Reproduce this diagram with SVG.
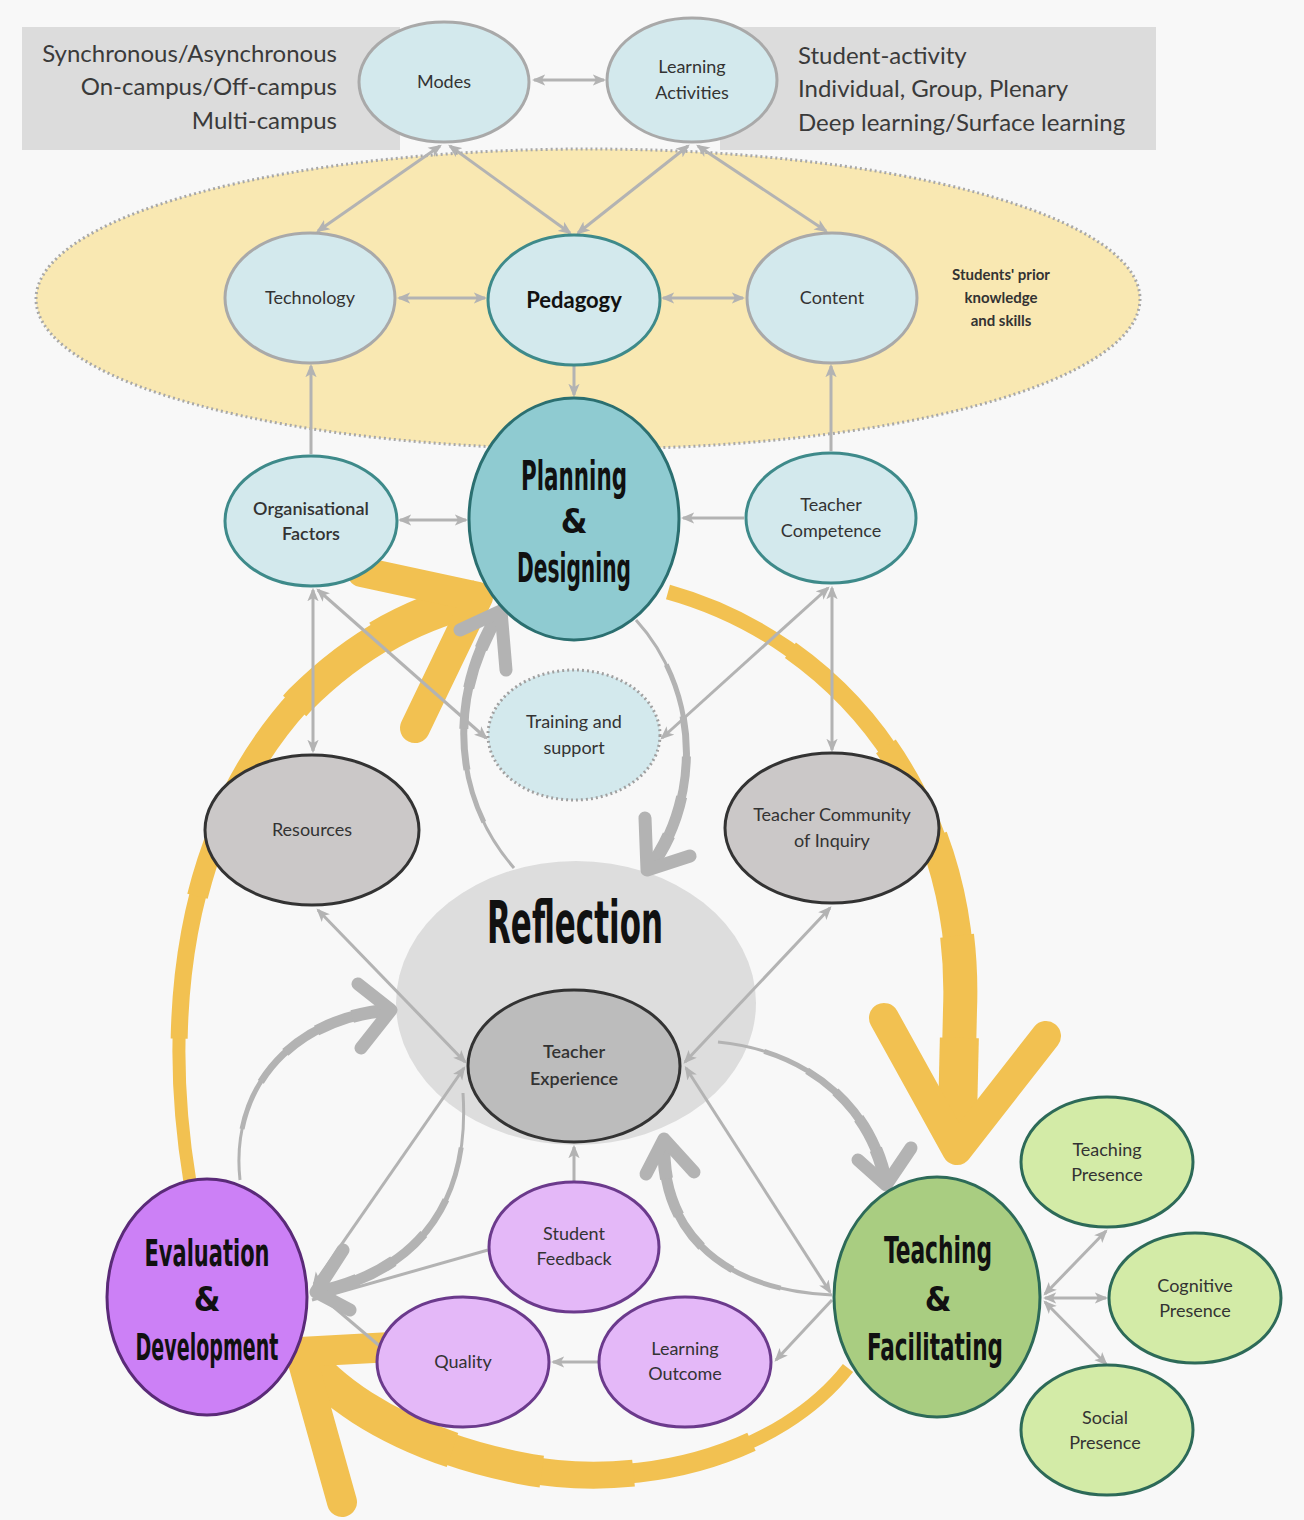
<svg xmlns="http://www.w3.org/2000/svg" width="1304" height="1520" viewBox="0 0 1304 1520">
<defs>
<style>
.lbl{font-family:Lato,"Liberation Sans",sans-serif;font-size:18px;fill:#333;text-anchor:middle}
.semi{font-weight:600}
.box{font-family:Lato,"Liberation Sans",sans-serif;font-size:24px;fill:#3a3a3a}
.hand{font-family:"Liberation Sans Narrow","DejaVu Sans Condensed",sans-serif;font-weight:bold;fill:#111;text-anchor:middle}
.lg{fill:#d3e9ed;stroke:#a9a9a9;stroke-width:3}
.lt{fill:#d3e9ed;stroke:#3e8a8a;stroke-width:3}
.gr{fill:#cbc8c8;stroke:#333;stroke-width:3}
.pu{fill:#e4b8f8;stroke:#6b3a8c;stroke-width:3}
.gn{fill:#d3eba7;stroke:#2d6a58;stroke-width:3}
.con{fill:none;stroke:#b3b3b3;stroke-width:3}
.bi{marker-start:url(#ah);marker-end:url(#ah)}
.en{marker-end:url(#ah)}
.ya{fill:none;stroke:#f2c151;stroke-linecap:butt}
.yc{fill:none;stroke:#f2c151;stroke-width:30;stroke-linecap:round;stroke-linejoin:round}
.ga{fill:none;stroke:#b3b3b3;stroke-linecap:butt}
.gc{fill:none;stroke:#b3b3b3;stroke-width:13;stroke-linecap:round;stroke-linejoin:round}
.t1{stroke-dasharray:0 20 80}
.t2{stroke-dasharray:0 40 60}
.t3{stroke-dasharray:0 55 45}
.t4{stroke-dasharray:0 70 30}
.t5{stroke-dasharray:0 85 15}
</style>
<marker id="ah" viewBox="0 0 12 10" refX="10" refY="5" markerWidth="4.5" markerHeight="4" orient="auto-start-reverse" markerUnits="strokeWidth">
<path d="M0,0 L12,5 L0,10 L3,5 Z" fill="#b3b3b3"/>
</marker>
<path id="yA" d="M 668 592 C 840 640 968 800 960 1010 L 957 1140"/>
<path id="yB" d="M 848 1368 C 780 1455 640 1492 520 1468 C 420 1448 340 1405 300 1352"/>
<path id="yC" d="M 190 1182 C 160 1000 190 820 300 700 C 360 640 420 612 478 598"/>
</defs>
<rect x="0" y="0" width="1304" height="1520" fill="#f8f8f8"/>
<g id="backgrounds">
<rect x="22" y="27" width="378" height="123" fill="#dcdcdc"/>
<rect x="720" y="27" width="436" height="123" fill="#dcdcdc"/>
<ellipse cx="588" cy="299" rx="552" ry="150" fill="#f9e8b2" stroke="#a8a8a8" stroke-width="3" stroke-dasharray="2 3"/>
<ellipse cx="576" cy="1003" rx="180" ry="142" fill="#dddddd"/>
</g>
<g id="box-texts">
<text class="box" x="337" y="62" text-anchor="end">Synchronous/Asynchronous</text>
<text class="box" x="337" y="95" text-anchor="end">On-campus/Off-campus</text>
<text class="box" x="337" y="129" text-anchor="end">Multi-campus</text>
<text class="box" x="798" y="64">Student-activity</text>
<text class="box" x="798" y="97">Individual, Group, Plenary</text>
<text class="box" x="798" y="131">Deep learning/Surface learning</text>
<text class="lbl" x="1001" y="280" style="font-size:15px;font-weight:bold">Students' prior</text>
<text class="lbl" x="1001" y="303" style="font-size:15px;font-weight:bold">knowledge</text>
<text class="lbl" x="1001" y="326" style="font-size:15px;font-weight:bold">and skills</text>
</g>
<g id="cycle-arrows">
<path class="ya" d="M 668 592 C 840 640 968 800 960 1010 L 957 1140" stroke-width="15"/>
<path class="ya t1" pathLength="100" d="M 668 592 C 840 640 968 800 960 1010 L 957 1140" stroke-width="19"/>
<path class="ya t2" pathLength="100" d="M 668 592 C 840 640 968 800 960 1010 L 957 1140" stroke-width="24"/>
<path class="ya t3" pathLength="100" d="M 668 592 C 840 640 968 800 960 1010 L 957 1140" stroke-width="29"/>
<path class="ya t4" pathLength="100" d="M 668 592 C 840 640 968 800 960 1010 L 957 1140" stroke-width="34"/>
<path class="ya t5" pathLength="100" d="M 668 592 C 840 640 968 800 960 1010 L 957 1140" stroke-width="39"/>
<polyline class="yc" points="884,1018 957,1150 1046,1036"/>
<path class="ya" d="M 848 1368 C 780 1455 640 1492 520 1468 C 420 1448 340 1405 300 1352" stroke-width="13"/>
<path class="ya t1" pathLength="100" d="M 848 1368 C 780 1455 640 1492 520 1468 C 420 1448 340 1405 300 1352" stroke-width="20"/>
<path class="ya t2" pathLength="100" d="M 848 1368 C 780 1455 640 1492 520 1468 C 420 1448 340 1405 300 1352" stroke-width="27"/>
<path class="ya t3" pathLength="100" d="M 848 1368 C 780 1455 640 1492 520 1468 C 420 1448 340 1405 300 1352" stroke-width="32"/>
<path class="ya t4" pathLength="100" d="M 848 1368 C 780 1455 640 1492 520 1468 C 420 1448 340 1405 300 1352" stroke-width="36"/>
<polyline class="yc" points="410,1346 300,1352 342,1502"/>
<path class="ya" d="M 190 1182 C 160 1000 190 820 300 700 C 360 640 420 612 478 598" stroke-width="13"/>
<path class="ya t1" pathLength="100" d="M 190 1182 C 160 1000 190 820 300 700 C 360 640 420 612 478 598" stroke-width="17"/>
<path class="ya t2" pathLength="100" d="M 190 1182 C 160 1000 190 820 300 700 C 360 640 420 612 478 598" stroke-width="21"/>
<path class="ya t3" pathLength="100" d="M 190 1182 C 160 1000 190 820 300 700 C 360 640 420 612 478 598" stroke-width="26"/>
<path class="ya t4" pathLength="100" d="M 190 1182 C 160 1000 190 820 300 700 C 360 640 420 612 478 598" stroke-width="31"/>
<path class="ya t5" pathLength="100" d="M 190 1182 C 160 1000 190 820 300 700 C 360 640 420 612 478 598" stroke-width="36"/>
<polyline class="yc" points="362,572 478,597 415,728"/>
</g>
<g id="connectors">
<line class="con bi" x1="534" y1="80" x2="604" y2="80"/>
<line class="con bi" x1="440" y1="146" x2="318" y2="231"/>
<line class="con bi" x1="450" y1="146" x2="570" y2="233"/>
<line class="con bi" x1="688" y1="146" x2="578" y2="233"/>
<line class="con bi" x1="698" y1="146" x2="826" y2="231"/>
<line class="con bi" x1="399" y1="298" x2="485" y2="298"/>
<line class="con bi" x1="663" y1="298" x2="743" y2="298"/>
<line class="con en" x1="574" y1="366" x2="574" y2="395"/>
<line class="con en" x1="311" y1="454" x2="311" y2="366"/>
<line class="con en" x1="831" y1="451" x2="831" y2="366"/>
<line class="con bi" x1="400" y1="520" x2="466" y2="520"/>
<line class="con en" x1="744" y1="518" x2="683" y2="518"/>
<line class="con bi" x1="313" y1="590" x2="313" y2="751"/>
<line class="con bi" x1="318" y1="590" x2="486" y2="738"/>
<line class="con bi" x1="832" y1="588" x2="832" y2="750"/>
<line class="con bi" x1="828" y1="588" x2="662" y2="738"/>
<line class="con bi" x1="318" y1="910" x2="465" y2="1062"/>
<line class="con bi" x1="830" y1="908" x2="685" y2="1062"/>
<line class="con bi" x1="314" y1="1284" x2="464" y2="1068"/>
<line class="con" x1="488" y1="1250" x2="312" y2="1300"/>
<line class="con" x1="382" y1="1348" x2="316" y2="1292"/>
<line class="con en" x1="574" y1="1182" x2="574" y2="1147"/>
<line class="con en" x1="598" y1="1362" x2="553" y2="1362"/>
<line class="con bi" x1="830" y1="1292" x2="686" y2="1068"/>
<line class="con en" x1="832" y1="1300" x2="776" y2="1360"/>
<line class="con bi" x1="1045" y1="1294" x2="1106" y2="1231"/>
<line class="con bi" x1="1045" y1="1298" x2="1106" y2="1298"/>
<line class="con bi" x1="1045" y1="1302" x2="1106" y2="1364"/>
<path class="ga" d="M 514 868 C 455 800 445 700 500 612" stroke-width="3"/>
<path class="ga t1" pathLength="100" d="M 514 868 C 455 800 445 700 500 612" stroke-width="5"/>
<path class="ga t2" pathLength="100" d="M 514 868 C 455 800 445 700 500 612" stroke-width="7"/>
<path class="ga t3" pathLength="100" d="M 514 868 C 455 800 445 700 500 612" stroke-width="9"/>
<path class="ga t4" pathLength="100" d="M 514 868 C 455 800 445 700 500 612" stroke-width="11"/>
<path class="ga t5" pathLength="100" d="M 514 868 C 455 800 445 700 500 612" stroke-width="13"/>
<polyline class="gc" points="460,630 501,611 506,670"/>
<path class="ga" d="M 636 620 C 700 690 702 800 648 870" stroke-width="3"/>
<path class="ga t1" pathLength="100" d="M 636 620 C 700 690 702 800 648 870" stroke-width="5"/>
<path class="ga t2" pathLength="100" d="M 636 620 C 700 690 702 800 648 870" stroke-width="7"/>
<path class="ga t3" pathLength="100" d="M 636 620 C 700 690 702 800 648 870" stroke-width="9"/>
<path class="ga t4" pathLength="100" d="M 636 620 C 700 690 702 800 648 870" stroke-width="11"/>
<path class="ga t5" pathLength="100" d="M 636 620 C 700 690 702 800 648 870" stroke-width="13"/>
<polyline class="gc" points="645,818 647,870 690,856"/>
<path class="ga" d="M 240 1180 C 230 1090 290 1018 390 1010" stroke-width="3"/>
<path class="ga t1" pathLength="100" d="M 240 1180 C 230 1090 290 1018 390 1010" stroke-width="5"/>
<path class="ga t2" pathLength="100" d="M 240 1180 C 230 1090 290 1018 390 1010" stroke-width="7"/>
<path class="ga t3" pathLength="100" d="M 240 1180 C 230 1090 290 1018 390 1010" stroke-width="9"/>
<path class="ga t4" pathLength="100" d="M 240 1180 C 230 1090 290 1018 390 1010" stroke-width="11"/>
<path class="ga t5" pathLength="100" d="M 240 1180 C 230 1090 290 1018 390 1010" stroke-width="13"/>
<polyline class="gc" points="358,984 391,1010 361,1048"/>
<path class="ga" d="M 463 1093 C 470 1200 420 1270 318 1292" stroke-width="3"/>
<path class="ga t1" pathLength="100" d="M 463 1093 C 470 1200 420 1270 318 1292" stroke-width="5"/>
<path class="ga t2" pathLength="100" d="M 463 1093 C 470 1200 420 1270 318 1292" stroke-width="7"/>
<path class="ga t3" pathLength="100" d="M 463 1093 C 470 1200 420 1270 318 1292" stroke-width="9"/>
<path class="ga t4" pathLength="100" d="M 463 1093 C 470 1200 420 1270 318 1292" stroke-width="11"/>
<path class="ga t5" pathLength="100" d="M 463 1093 C 470 1200 420 1270 318 1292" stroke-width="13"/>
<polyline class="gc" points="343,1250 316,1292 350,1310"/>
<path class="ga" d="M 718 1042 C 800 1050 870 1100 886 1183" stroke-width="3"/>
<path class="ga t1" pathLength="100" d="M 718 1042 C 800 1050 870 1100 886 1183" stroke-width="5"/>
<path class="ga t2" pathLength="100" d="M 718 1042 C 800 1050 870 1100 886 1183" stroke-width="7"/>
<path class="ga t3" pathLength="100" d="M 718 1042 C 800 1050 870 1100 886 1183" stroke-width="9"/>
<path class="ga t4" pathLength="100" d="M 718 1042 C 800 1050 870 1100 886 1183" stroke-width="11"/>
<path class="ga t5" pathLength="100" d="M 718 1042 C 800 1050 870 1100 886 1183" stroke-width="13"/>
<polyline class="gc" points="858,1160 886,1185 911,1148"/>
<path class="ga" d="M 832 1295 C 720 1290 660 1230 664 1140" stroke-width="3"/>
<path class="ga t1" pathLength="100" d="M 832 1295 C 720 1290 660 1230 664 1140" stroke-width="5"/>
<path class="ga t2" pathLength="100" d="M 832 1295 C 720 1290 660 1230 664 1140" stroke-width="7"/>
<path class="ga t3" pathLength="100" d="M 832 1295 C 720 1290 660 1230 664 1140" stroke-width="9"/>
<path class="ga t4" pathLength="100" d="M 832 1295 C 720 1290 660 1230 664 1140" stroke-width="11"/>
<path class="ga t5" pathLength="100" d="M 832 1295 C 720 1290 660 1230 664 1140" stroke-width="13"/>
<polyline class="gc" points="646,1174 664,1139 694,1172"/>
</g>
<g id="modes"><ellipse class="lg" cx="444" cy="82" rx="85" ry="60"/><text class="lbl" x="444" y="88">Modes</text></g>
<g id="learning-activities"><ellipse class="lg" cx="692" cy="80" rx="85" ry="62"/><text class="lbl" x="692" y="73">Learning</text><text class="lbl" x="692" y="99">Activities</text></g>
<g id="technology"><ellipse class="lg" cx="310" cy="298" rx="85" ry="65"/><text class="lbl" x="310" y="304">Technology</text></g>
<g id="pedagogy"><ellipse class="lt" cx="574" cy="300" rx="86" ry="65"/><text class="lbl" x="574" y="308" style="font-size:22px;font-weight:bold;fill:#111">Pedagogy</text></g>
<g id="content"><ellipse class="lg" cx="832" cy="298" rx="85" ry="65"/><text class="lbl" x="832" y="304">Content</text></g>
<g id="planning"><ellipse cx="574" cy="519" rx="105" ry="121" fill="#8fcbd1" stroke="#2b6f70" stroke-width="3"/>
<text class="hand" x="574" y="490" font-size="40" textLength="106" lengthAdjust="spacingAndGlyphs">Planning</text>
<text class="hand" x="574" y="533" font-size="34">&amp;</text>
<text class="hand" x="574" y="582" font-size="40" textLength="114" lengthAdjust="spacingAndGlyphs">Designing</text></g>
<g id="organisational-factors"><ellipse class="lt" cx="311" cy="521" rx="86" ry="65"/><text class="lbl semi" x="311" y="515">Organisational</text><text class="lbl semi" x="311" y="540">Factors</text></g>
<g id="teacher-competence"><ellipse class="lt" cx="831" cy="518" rx="85" ry="65"/><text class="lbl" x="831" y="511">Teacher</text><text class="lbl" x="831" y="537">Competence</text></g>
<g id="training"><ellipse cx="574" cy="735" rx="86" ry="65" fill="#d3e9ed" stroke="#a0a0a0" stroke-width="3" stroke-dasharray="2 3"/><text class="lbl" x="574" y="728">Training and</text><text class="lbl" x="574" y="754">support</text></g>
<g id="resources"><ellipse class="gr" cx="312" cy="830" rx="107" ry="75"/><text class="lbl" x="312" y="836">Resources</text></g>
<g id="teacher-community"><ellipse class="gr" cx="832" cy="828" rx="107" ry="75"/><text class="lbl" x="832" y="821">Teacher Community</text><text class="lbl" x="832" y="847">of Inquiry</text></g>
<g id="reflection"><text class="hand" x="575" y="943" font-size="58" textLength="176" lengthAdjust="spacingAndGlyphs">Reflection</text></g>
<g id="teacher-experience"><ellipse cx="574" cy="1066" rx="106" ry="76" fill="#bcbcbc" stroke="#333" stroke-width="3"/><text class="lbl semi" x="574" y="1058">Teacher</text><text class="lbl semi" x="574" y="1085">Experience</text></g>
<g id="evaluation"><ellipse cx="207" cy="1297" rx="100" ry="118" fill="#cc80f6" stroke="#5a2a78" stroke-width="3"/>
<text class="hand" x="207" y="1266" font-size="38" textLength="125" lengthAdjust="spacingAndGlyphs">Evaluation</text>
<text class="hand" x="207" y="1311" font-size="34">&amp;</text>
<text class="hand" x="207" y="1360" font-size="38" textLength="143" lengthAdjust="spacingAndGlyphs">Development</text></g>
<g id="student-feedback"><ellipse class="pu" cx="574" cy="1247" rx="85" ry="65"/><text class="lbl" x="574" y="1240">Student</text><text class="lbl" x="574" y="1265">Feedback</text></g>
<g id="quality"><ellipse class="pu" cx="463" cy="1362" rx="86" ry="65"/><text class="lbl" x="463" y="1368">Quality</text></g>
<g id="learning-outcome"><ellipse class="pu" cx="685" cy="1362" rx="86" ry="65"/><text class="lbl" x="685" y="1355">Learning</text><text class="lbl" x="685" y="1380">Outcome</text></g>
<g id="teaching"><ellipse cx="937" cy="1297" rx="103" ry="120" fill="#a9cd81" stroke="#2d6a58" stroke-width="3"/>
<text class="hand" x="938" y="1263" font-size="38" textLength="108" lengthAdjust="spacingAndGlyphs">Teaching</text>
<text class="hand" x="938" y="1311" font-size="34">&amp;</text>
<text class="hand" x="935" y="1360" font-size="38" textLength="136" lengthAdjust="spacingAndGlyphs">Facilitating</text></g>
<g id="teaching-presence"><ellipse class="gn" cx="1107" cy="1162" rx="86" ry="65"/><text class="lbl" x="1107" y="1156">Teaching</text><text class="lbl" x="1107" y="1181">Presence</text></g>
<g id="cognitive-presence"><ellipse class="gn" cx="1195" cy="1298" rx="86" ry="65"/><text class="lbl" x="1195" y="1292">Cognitive</text><text class="lbl" x="1195" y="1317">Presence</text></g>
<g id="social-presence"><ellipse class="gn" cx="1107" cy="1430" rx="86" ry="65"/><text class="lbl" x="1105" y="1424">Social</text><text class="lbl" x="1105" y="1449">Presence</text></g>
</svg>
